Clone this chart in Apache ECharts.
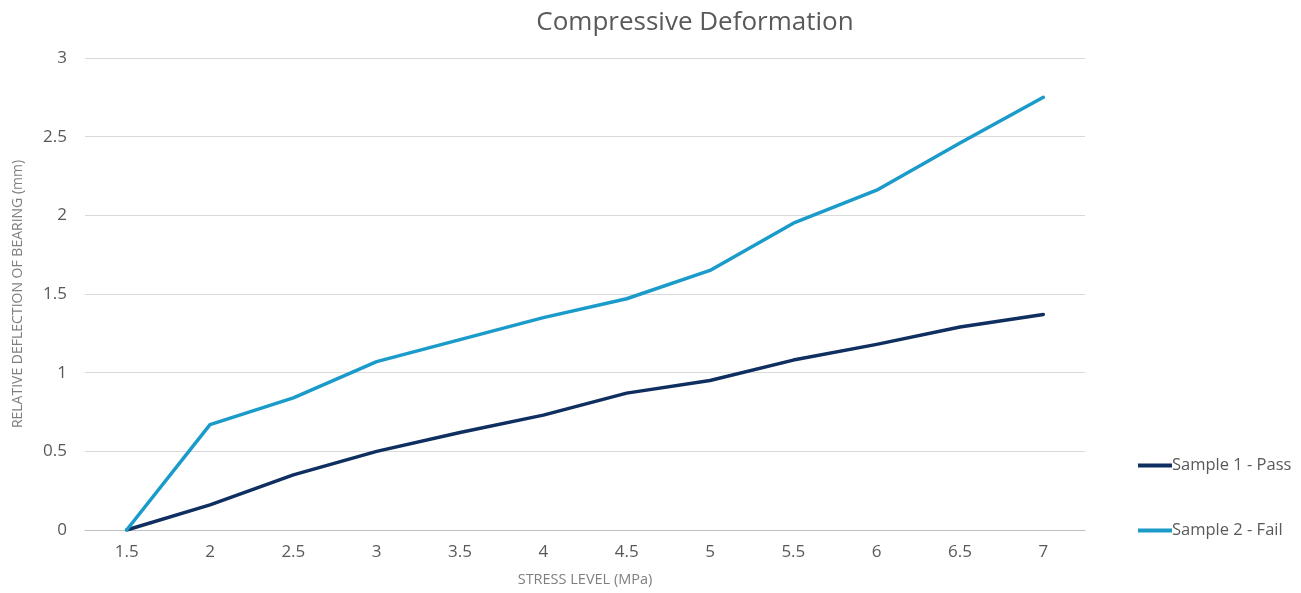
<!DOCTYPE html>
<html><head><meta charset="utf-8">
<script src="https://cdn.jsdelivr.net/npm/echarts@6/dist/echarts.min.js"></script>
<style>html,body{margin:0;padding:0;background:#fff}#c{width:1301px;height:593px}</style>
</head><body><div id="c"></div>
<script>
const categories = ['1.5','2','2.5','3','3.5','4','4.5','5','5.5','6','6.5','7'];
const sample1 = [0, 0.16, 0.35, 0.50, 0.62, 0.73, 0.87, 0.95, 1.08, 1.18, 1.29, 1.37];
const sample2 = [0, 0.67, 0.84, 1.07, 1.21, 1.35, 1.47, 1.65, 1.95, 2.16, 2.46, 2.75];
const seriesNames = ['Sample 1 - Pass', 'Sample 2 - Fail'];
const colors = ['#0f2f60', '#1a9bca'];
const font = '"Open Sans", "Noto Sans", sans-serif';
const chart = echarts.init(document.getElementById('c'), null, {renderer:'canvas'});
chart.setOption({
  animation: false,
  textStyle: {fontFamily: font},
  title: {text: 'Compressive Deformation', left: 690, top: 5, textAlign: 'center',
    textStyle: {fontFamily: font, fontSize: 26, fontWeight: 'normal', color: '#595959'}},
  grid: {left: 85, right: 216, top: 58, bottom: 63},
  legend: {orient: 'vertical', left: 1133, top: 452, itemGap: 48, itemWidth: 34, itemHeight: 4,
    icon: 'rect',
    data: seriesNames, textStyle: {fontFamily: font, fontSize: 16.5, color: '#595959', padding: [0,0,0,-5]}},
  xAxis: {type: 'category', data: categories, boundaryGap: true,
    name: 'STRESS LEVEL (MPa)', nameLocation: 'middle', nameGap: 42,
    nameTextStyle: {fontFamily: font, fontSize: 14.5, color: '#7f7f7f'},
    axisLine: {lineStyle: {color: '#bfbfbf', width: 1}},
    axisTick: {show: false},
    axisLabel: {fontFamily: font, fontSize: 17, color: '#595959', margin: 14}},
  yAxis: {type: 'value', min: 0, max: 3, interval: 0.5,
    name: 'RELATIVE DEFLECTION OF BEARING (mm)', nameLocation: 'middle', nameGap: 60,
    nameTextStyle: {fontFamily: font, fontSize: 14, color: '#7f7f7f'},
    axisLine: {show: false}, axisTick: {show: false},
    splitLine: {lineStyle: {color: '#d9d9d9', width: 1}},
    axisLabel: {fontFamily: font, fontSize: 17, color: '#595959', margin: 18}},
  series: [
    {name: seriesNames[0], type: 'line', data: sample1, symbol: 'none', color: colors[0],
      lineStyle: {width: 3.5, color: colors[0], cap: 'round', join: 'round'}},
    {name: seriesNames[1], type: 'line', data: sample2, symbol: 'none', color: colors[1],
      lineStyle: {width: 3.5, color: colors[1], cap: 'round', join: 'round'}}
  ]
});
</script></body></html>
